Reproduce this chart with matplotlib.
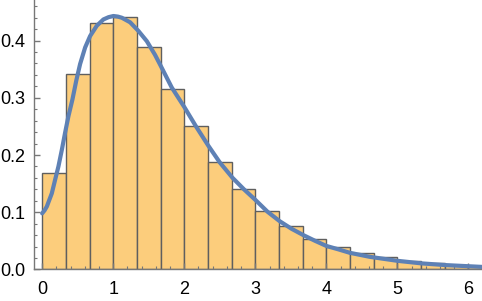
import numpy as np
import matplotlib
matplotlib.use("Agg")
import matplotlib.pyplot as plt
from matplotlib.ticker import MultipleLocator

# histogram bins (width 1/3) and heights
bin_left = [i / 3 for i in range(19)]
bin_height = [0.168, 0.342, 0.430, 0.442, 0.389, 0.316, 0.251, 0.188, 0.140,
              0.102, 0.075, 0.054, 0.039, 0.028, 0.021, 0.0145, 0.0105,
              0.007, 0.0058]
bin_width = 1 / 3

# density curve, points
curve_x = [0.0, 0.033, 0.066, 0.136, 0.183, 0.229, 0.277, 0.323, 0.370,
           0.426, 0.480, 0.534, 0.605, 0.675, 0.769, 0.862, 0.935, 1.003,
           1.065, 1.121, 1.238, 1.354, 1.473, 1.589, 1.66, 1.824, 2.0,
           2.17, 2.34, 2.5, 2.68, 2.84, 3.0, 3.17, 3.34, 3.51, 3.675, 3.84,
           4.0, 4.17, 4.33, 4.61, 5.0, 5.34, 5.68, 6.15, 6.2]
curve_y = [0.098, 0.103, 0.110, 0.133, 0.157, 0.180, 0.209, 0.239, 0.268,
           0.297, 0.330, 0.359, 0.388, 0.408, 0.426, 0.437, 0.441, 0.443,
           0.442, 0.440, 0.432, 0.417, 0.399, 0.375, 0.358, 0.318, 0.284,
           0.249, 0.216, 0.187, 0.160, 0.140, 0.1216, 0.101, 0.0845, 0.071,
           0.060, 0.050, 0.041, 0.035, 0.029, 0.022, 0.015, 0.0105, 0.0075,
           0.0046, 0.0043]

plt.rcParams['font.family'] = ['Liberation Sans', 'DejaVu Sans']

fig = plt.figure(figsize=(4.82, 3.01), dpi=100)
ax = fig.add_axes([0.0705, 0.105, 0.9295, 0.895])

ax.bar(bin_left, bin_height, width=bin_width, align='edge',
       color='#fccd7c', edgecolor='#5f5f5f', linewidth=1.0)
ax.plot(curve_x, curve_y, color='#5e81b5', linewidth=3.0,
        solid_capstyle='round', solid_joinstyle='round')

ax.set_xlim(-0.115, 6.19)
ax.set_ylim(0, 0.471)

for side in ['top', 'right']:
    ax.spines[side].set_visible(False)
for side in ['left', 'bottom']:
    ax.spines[side].set_color('#777777')
    ax.spines[side].set_linewidth(1.0)

ax.xaxis.set_major_locator(MultipleLocator(1))
ax.xaxis.set_minor_locator(MultipleLocator(0.2))
ax.yaxis.set_major_locator(MultipleLocator(0.1))
ax.yaxis.set_minor_locator(MultipleLocator(0.02))
ax.yaxis.set_major_formatter(matplotlib.ticker.FormatStrFormatter('%.1f'))

ax.tick_params(which='both', direction='in', color='#777777', labelsize=13)
ax.tick_params(which='major', length=4, width=1)
ax.tick_params(which='minor', length=2, width=0.8)
ax.tick_params(axis='x', pad=8)
ax.tick_params(axis='y', pad=6)

fig.savefig('out.png', dpi=100)
